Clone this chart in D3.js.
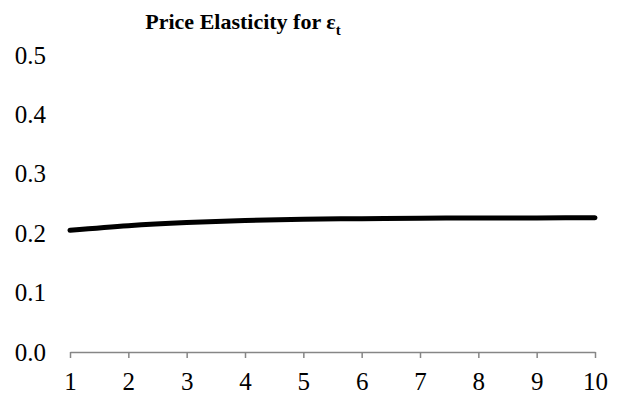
<!DOCTYPE html>
<html>
<head>
<meta charset="utf-8">
<script src="https://cdn.jsdelivr.net/npm/d3@7"></script>
<style>
  body { margin: 0; background: #fff; }
  .chart text { font-family: "Liberation Serif", "Times New Roman", serif; fill: #000; }
  .axis .domain, .axis .tick line { stroke: #868686; }
</style>
</head>
<body>
<svg class="chart"></svg>
<script>
// values
var periods = [1, 2, 3, 4, 5, 6, 7, 8, 9, 10];
var elasticity = [0.205, 0.2127, 0.218, 0.2215, 0.2235, 0.2245, 0.2252, 0.2256, 0.2258, 0.2259];
var yTicks = [0, 0.1, 0.2, 0.3, 0.4, 0.5];

var margin = {top: 55, right: 26, bottom: 49, left: 70},
    width = 621 - margin.left - margin.right,
    height = 401 - margin.top - margin.bottom;

var chart = d3.select('.chart')
    .attr('width', width + margin.left + margin.right)
    .attr('height', height + margin.top + margin.bottom);

var g = chart.append('g')
    .attr('transform', 'translate(' + margin.left + ',' + margin.top + ')');

var x = d3.scaleLinear().domain([1, 10]).range([0, width]),
    y = d3.scaleLinear().domain([0, 0.5]).range([height, 0]);

// x axis with tick marks below
var xAxis = g.append('g')
    .attr('class', 'axis')
    .attr('transform', 'translate(0,' + height + ')')
    .call(d3.axisBottom(x).tickValues(periods).tickSize(6).tickSizeOuter(0).tickFormat(d3.format('d')));
xAxis.select('.domain').attr('stroke-width', 1.5);
xAxis.selectAll('.tick line').attr('stroke-width', 1.5);
xAxis.selectAll('.tick text')
    .attr('y', 20)
    .style('font-size', '25px');

// y axis, labels only
var yAxis = g.append('g')
    .call(d3.axisLeft(y).tickValues(yTicks).tickSize(0).tickFormat(d3.format('.1f')));
yAxis.select('.domain').remove();
yAxis.selectAll('.tick text')
    .attr('x', -24)
    .style('font-size', '25px');

var line = d3.line()
    .x(function(d, i) { return x(periods[i]); })
    .y(function(d) { return y(d); })
    .curve(d3.curveMonotoneX);

g.append('path')
    .datum(elasticity)
    .attr('fill', 'none')
    .attr('stroke', '#000')
    .attr('stroke-width', 5)
    .attr('stroke-linecap', 'round')
    .attr('d', line);

// title
var title = chart.append('text')
    .attr('x', 243)
    .attr('y', 29)
    .attr('text-anchor', 'middle')
    .style('font-size', '22px')
    .style('font-weight', 'bold');
title.append('tspan').text('Price Elasticity for ε');
title.append('tspan')
    .attr('dy', 6)
    .style('font-size', '15px')
    .text('t');
</script>
</body>
</html>
